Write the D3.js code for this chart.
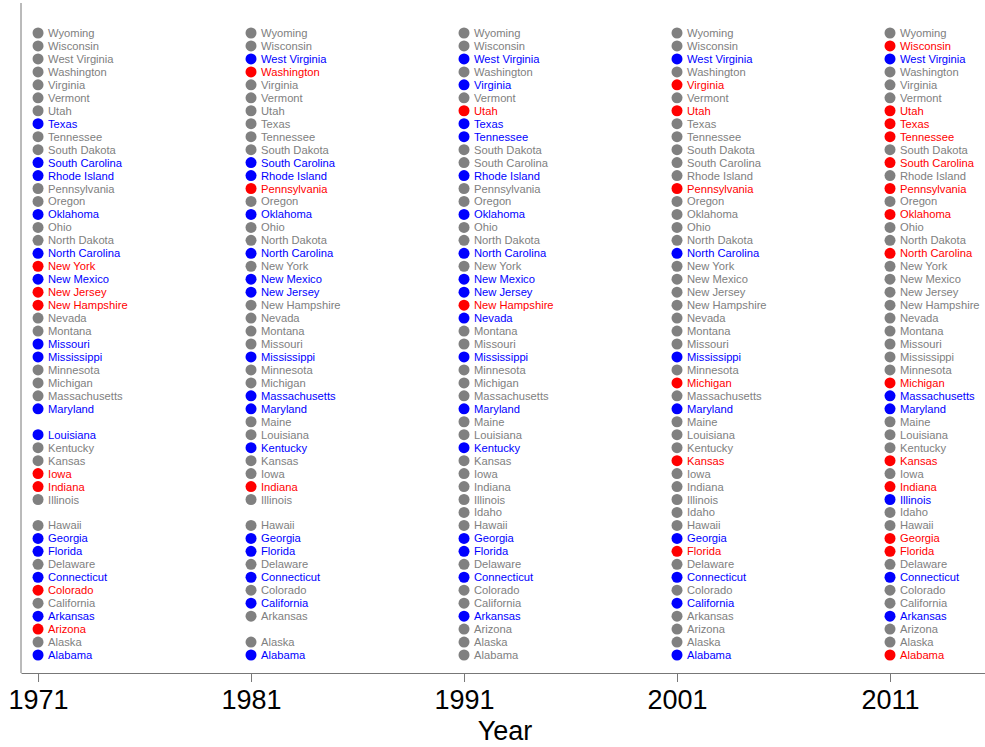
<!DOCTYPE html>
<html>
<head>
<meta charset="utf-8">
<script src="https://cdn.jsdelivr.net/npm/d3@7"></script>
<style>
  body { margin: 0; background: #fff; }
  svg { font-family: "Liberation Sans", Arial, sans-serif; }
</style>
</head>
<body>
<div id="chart"></div>
<script>
// States in alphabetical order (Nebraska is not in the data)
const states = ["Alabama", "Alaska", "Arizona", "Arkansas", "California", "Colorado",
    "Connecticut", "Delaware", "Florida", "Georgia", "Hawaii", "Idaho", "Illinois",
    "Indiana", "Iowa", "Kansas", "Kentucky", "Louisiana", "Maine", "Maryland",
    "Massachusetts", "Michigan", "Minnesota", "Mississippi", "Missouri", "Montana",
    "Nevada", "New Hampshire", "New Jersey", "New Mexico", "New York", "North Carolina",
    "North Dakota", "Ohio", "Oklahoma", "Oregon", "Pennsylvania", "Rhode Island",
    "South Carolina", "South Dakota", "Tennessee", "Texas", "Utah", "Vermont",
    "Virginia", "Washington", "West Virginia", "Wisconsin", "Wyoming"];

const years = [1971, 1981, 1991, 2001, 2011];

// status per state, same order as states: D = blue, R = red, N = grey, "" = no data
const status1971 = ["D","N","R","D","N","R","D","N","D","D","N","","N","R","R","N","N","D","","D",
    "N","N","N","D","D","N","N","R","R","D","R","D","N","N","D","N","N","D","D","N",
    "N","D","N","N","N","N","N","N","N"];
const status1981 = ["D","N","","N","D","N","D","N","D","D","N","","N","R","N","N","D","N","N","D",
    "D","N","N","D","N","N","N","N","D","D","N","D","N","N","D","N","R","D","D","N",
    "N","N","N","N","N","R","D","N","N"];
const status1991 = ["N","N","N","D","N","N","D","N","D","D","N","N","N","N","N","N","D","N","N","D",
    "N","N","N","D","N","N","D","R","D","D","N","D","N","N","D","N","N","D","N","N",
    "D","D","R","N","D","N","D","N","N"];
const status2001 = ["D","N","N","N","D","N","D","N","R","D","N","N","N","N","N","R","N","N","N","D",
    "N","R","N","D","N","N","N","N","N","N","N","D","N","N","N","N","R","N","N","N",
    "N","N","R","N","R","N","D","N","N"];
const status2011 = ["R","N","N","D","N","N","D","N","R","R","N","N","D","R","N","R","N","N","N","D",
    "D","R","N","N","N","N","N","N","N","N","N","R","N","N","R","N","R","N","R","N",
    "R","R","R","N","N","N","D","R","N"];

const statusByYear = [status1971, status1981, status1991, status2001, status2011];
const colors = { D: "#0000ff", R: "#ff0000", N: "#808080" };

const width = 985, height = 747;

const points = [];
years.forEach((year, j) => {
    statusByYear[j].forEach((s, i) => {
        if (s) points.push({ year: year, idx: i, state: states[i], status: s });
    });
});

const x = d3.scaleLinear().domain([1970.2, 2015.46]).range([21, 985]);
const y = d3.scaleLinear().domain([0, 48]).range([655, 33]);

const svg = d3.select("#chart").append("svg")
    .attr("width", width)
    .attr("height", height);

// left axis line
svg.append("line")
    .attr("x1", 21).attr("x2", 21)
    .attr("y1", 3).attr("y2", 673)
    .attr("stroke", "#777")
    .attr("stroke-width", 1);

// bottom axis
const xAxis = svg.append("g")
    .attr("transform", "translate(0,673)")
    .call(d3.axisBottom(x)
        .tickValues(years)
        .tickFormat(d3.format("d"))
        .tickSize(9)
        .tickSizeOuter(0)
        .tickPadding(8));
xAxis.select(".domain").attr("stroke", "#777");
xAxis.selectAll(".tick line").attr("stroke", "#777");
xAxis.selectAll(".tick text")
    .attr("fill", "#000")
    .style("font-size", "27px")
    .style("font-family", "'Liberation Sans', Arial, sans-serif");

svg.append("text")
    .attr("x", 505)
    .attr("y", 740)
    .attr("text-anchor", "middle")
    .style("font-size", "27px")
    .text("Year");

// dots
svg.append("g").selectAll("circle")
    .data(points)
    .enter()
    .append("circle")
    .attr("cx", d => x(d.year))
    .attr("cy", d => y(d.idx))
    .attr("r", 5.5)
    .attr("fill", d => colors[d.status]);

// state labels
svg.append("g").selectAll("text")
    .data(points)
    .enter()
    .append("text")
    .attr("x", d => x(d.year) + 10)
    .attr("y", d => y(d.idx))
    .attr("dy", "0.36em")
    .attr("fill", d => colors[d.status])
    .style("font-size", "11.2px")
    .text(d => d.state);
</script>
</body>
</html>
